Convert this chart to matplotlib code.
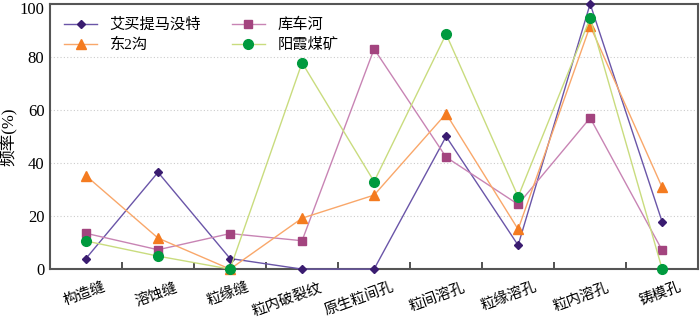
import matplotlib
matplotlib.use("Agg")
import matplotlib.pyplot as plt
import matplotlib.transforms as mtransforms
import numpy as np

categories = ["构造缝", "溶蚀缝", "粒缘缝", "粒内破裂纹", "原生粒间孔", "粒间溶孔", "粒缘溶孔", "粒内溶孔", "铸模孔"]
s_aimaiti = [4, 36.5, 4, 0, 0, 50, 9, 100, 17.8]
s_kuchehe = [13.5, 7.3, 13.4, 10.7, 83, 42.2, 24.4, 57, 7.1]
s_dong2gou = [35.2, 11.7, 0, 19.2, 27.9, 58.6, 15, 91.7, 30.8]
s_yangxia = [10.6, 4.9, 0, 77.8, 33, 88.6, 27.3, 94.6, 0]
series_names = ["艾买提马没特", "库车河", "东2沟", "阳霞煤矿"]
yticks = [0, 20, 40, 60, 80, 100]

plt.rcParams['font.family'] = ['Liberation Serif', 'Noto Sans CJK SC', 'DejaVu Sans']

fig = plt.figure(figsize=(7, 3.2), dpi=100)
ax = fig.add_axes([0.0714, 0.159, 0.926, 0.829])

x = np.arange(len(categories))
styles = [
    (s_aimaiti, series_names[0], "#6a55a8", "#3a1c70", "D", 4.5),
    (s_kuchehe, series_names[1], "#c884b4", "#a3447f", "s", 6),
    (s_dong2gou, series_names[2], "#f9a76a", "#f47b20", "^", 7),
    (s_yangxia, series_names[3], "#c9dc7e", "#009a3e", "o", 7),
]
handles = []
for vals, name, lc, mc, mk, ms in styles:
    h, = ax.plot(x, vals, color=lc, lw=1.0, marker=mk, markersize=ms,
                 markerfacecolor=mc, markeredgecolor=mc, label=name, clip_on=False, zorder=3)
    handles.append(h)

ax.set_xlim(-0.5, len(categories) - 0.5)
ax.set_ylim(0, 100)
ax.set_yticks(yticks)
ax.set_yticklabels([str(v) for v in yticks], fontsize=12)
ax.tick_params(axis='y', length=0, pad=4)
ylabs = ax.get_yticklabels()
ylabs[-1].set_transform(ylabs[-1].get_transform() +
                        mtransforms.ScaledTranslation(0, -3 / 72, fig.dpi_scale_trans))
for v in yticks[1:-1]:
    ax.axhline(v, color="#cccccc", lw=0.8, ls=(0, (1, 2)), zorder=0)

ax.set_xticks(x)
ax.set_xticklabels(categories, rotation=20, ha='right', va='top',
                   rotation_mode='anchor', fontsize=10.5)
ax.tick_params(axis='x', which='major', length=0, pad=8)
offset = mtransforms.ScaledTranslation(12 / 72, 0, fig.dpi_scale_trans)
for lab in ax.get_xticklabels():
    lab.set_transform(lab.get_transform() + offset)
ax.set_xticks(np.arange(0.5, len(categories) - 1, 1), minor=True)
ax.tick_params(axis='x', which='minor', direction='in', length=5, width=1.2, color="#333333")

for sp in ax.spines.values():
    sp.set_color("#555555")
    sp.set_linewidth(1.5)

ax.set_ylabel("频率(%)", fontsize=12, labelpad=2)

order = [0, 2, 1, 3]
ax.legend(handles=[handles[i] for i in order],
          labels=[series_names[i] for i in order],
          ncol=2, loc='upper left', frameon=False, fontsize=11,
          bbox_to_anchor=(0.0, 1.0), columnspacing=2.0, handlelength=2.2,
          borderaxespad=0.5, labelspacing=0.4)

fig.savefig("out.png", dpi=100)
